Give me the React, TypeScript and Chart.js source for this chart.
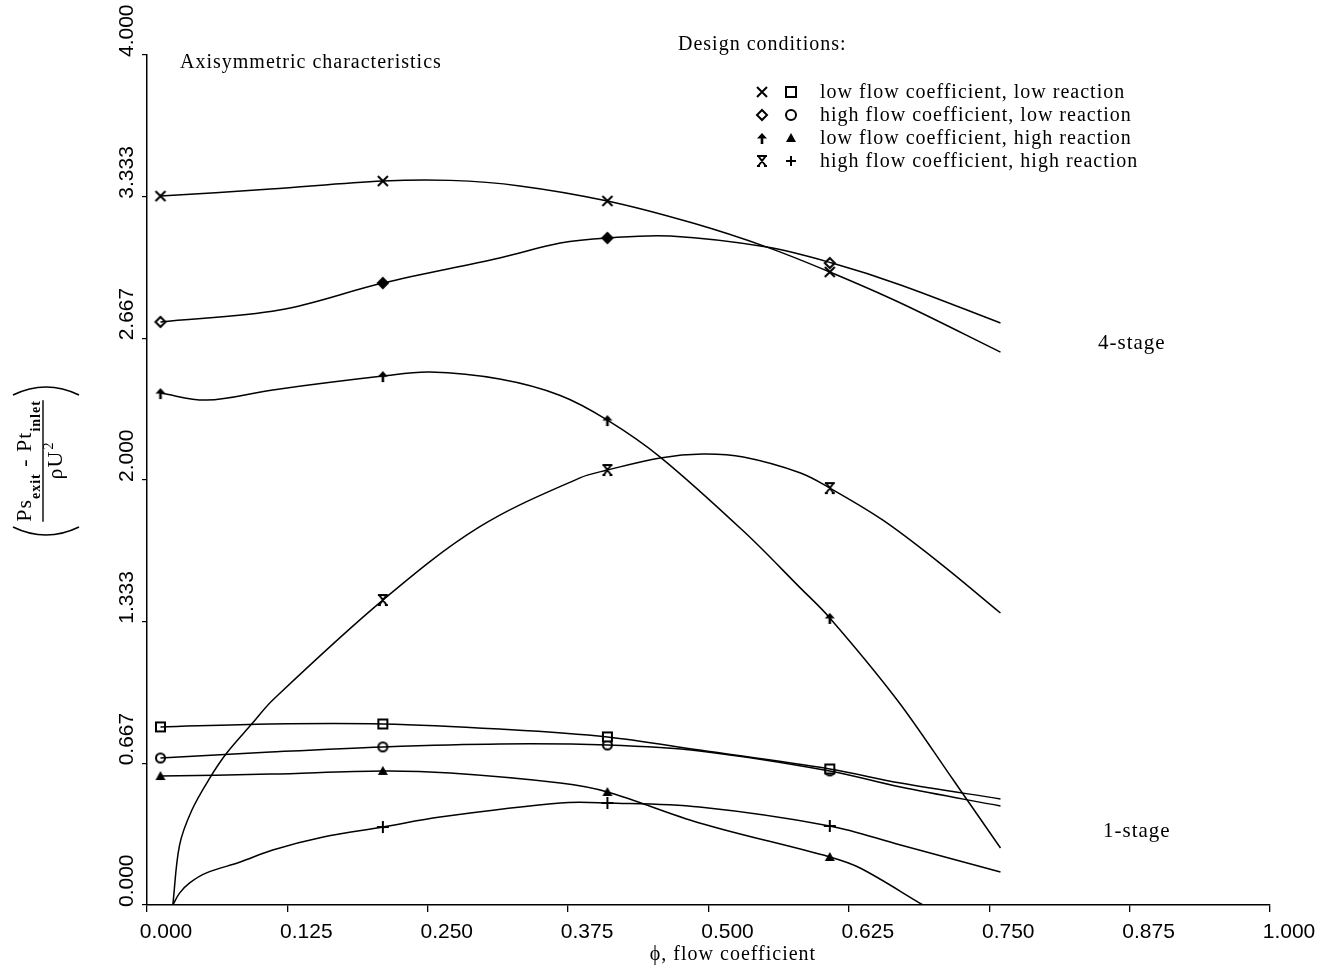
import React, { useEffect, useRef } from "react";
import { Chart, registerables } from "chart.js";

Chart.register(...registerables);

// ---------- tick labels ----------
const xTickValues = [0, 0.125, 0.25, 0.375, 0.5, 0.625, 0.75, 0.875, 1.0];
const xTickLabels = ["0.000", "0.125", "0.250", "0.375", "0.500", "0.625", "0.750", "0.875", "1.000"];
const yTickValues = [0, 2 / 3, 4 / 3, 2, 8 / 3, 10 / 3, 4];
const yTickLabels = ["0.000", "0.667", "1.333", "2.000", "2.667", "3.333", "4.000"];

// ---------- texts ----------
const xTitle = "\u03d5, flow coefficient";
const plotTitle = "Axisymmetric characteristics";
const legendTitle = "Design conditions:";
const legendLabels = [
  "low flow coefficient, low reaction",
  "high flow coefficient, low reaction",
  "low flow coefficient, high reaction",
  "high flow coefficient, high reaction",
];
const stageLabels = ["4-stage", "1-stage"];

// ---------- measured points (marker locations) ----------
const xMarkers = [0.012, 0.21, 0.41, 0.608];
const xMarkersHigh = [0.21, 0.41, 0.608];

// 4-stage markers
const mLowFlowLowReact4 = [3.336, 3.407, 3.313, 2.979];
const mHighFlowLowReact4 = [2.744, 2.927, 3.139, 3.021];
const mLowFlowHighReact4 = [2.409, 2.489, 2.282, 1.351];
const mHighFlowHighReact4 = [1.435, 2.047, 1.962];
// 1-stage markers
const mLowFlowLowReact1 = [0.838, 0.852, 0.791, 0.64];
const mHighFlowLowReact1 = [0.692, 0.744, 0.753, 0.631];
const mLowFlowHighReact1 = [0.607, 0.631, 0.532, 0.226];
const mHighFlowHighReact1 = [0.367, 0.48, 0.372];

// ---------- fitted curves [phi, value] ----------
const cLowFlowLowReact4: [number, number][] = [
  [0.012, 3.336], [0.11, 3.369], [0.21, 3.407], [0.27, 3.41], [0.332, 3.384],
  [0.41, 3.313], [0.486, 3.209], [0.552, 3.096], [0.608, 2.979], [0.671, 2.833], [0.76, 2.602],
];
const cHighFlowLowReact4: [number, number][] = [
  [0.012, 2.744], [0.118, 2.8], [0.21, 2.927], [0.314, 3.045], [0.368, 3.115],
  [0.41, 3.139], [0.466, 3.148], [0.552, 3.096], [0.61, 3.021], [0.671, 2.918], [0.76, 2.739],
];
const cLowFlowHighReact4: [number, number][] = [
  [0.012, 2.409], [0.053, 2.376], [0.112, 2.424], [0.21, 2.489], [0.252, 2.508],
  [0.314, 2.475], [0.368, 2.398], [0.41, 2.282], [0.457, 2.108], [0.532, 1.755],
  [0.581, 1.496], [0.608, 1.351], [0.668, 0.965], [0.718, 0.588], [0.76, 0.268],
];
const cHighFlowHighReact4: [number, number][] = [
  [0.023, 0.0], [0.029, 0.282], [0.04, 0.447], [0.056, 0.598], [0.071, 0.715],
  [0.094, 0.856], [0.112, 0.965], [0.21, 1.435], [0.296, 1.779], [0.385, 2.009],
  [0.41, 2.047], [0.457, 2.104], [0.495, 2.122], [0.531, 2.108], [0.582, 2.033],
  [0.608, 1.962], [0.655, 1.812], [0.706, 1.609], [0.76, 1.374],
];
const cLowFlowLowReact1: [number, number][] = [
  [0.012, 0.838], [0.11, 0.852], [0.21, 0.852], [0.314, 0.828], [0.41, 0.791],
  [0.492, 0.729], [0.608, 0.64], [0.671, 0.574], [0.76, 0.499],
];
const cHighFlowLowReact1: [number, number][] = [
  [0.012, 0.692], [0.11, 0.72], [0.21, 0.744], [0.314, 0.758], [0.41, 0.753],
  [0.492, 0.725], [0.608, 0.631], [0.671, 0.555], [0.76, 0.466],
];
const cLowFlowHighReact1: [number, number][] = [
  [0.012, 0.607], [0.11, 0.616], [0.21, 0.631], [0.27, 0.621], [0.368, 0.574],
  [0.41, 0.532], [0.492, 0.386], [0.608, 0.226], [0.635, 0.174], [0.691, 0.0],
];
const cHighFlowHighReact1: [number, number][] = [
  [0.023, 0.0], [0.029, 0.056], [0.038, 0.104], [0.053, 0.151], [0.083, 0.202],
  [0.112, 0.259], [0.157, 0.32], [0.21, 0.367], [0.261, 0.414], [0.368, 0.48],
  [0.41, 0.48], [0.492, 0.461], [0.608, 0.372], [0.671, 0.282], [0.76, 0.155],
];

const SERIF = "'Liberation Serif', 'Times New Roman', serif";
const SANS = "'Liberation Sans', Arial, sans-serif";

type Kind = "x" | "diamond" | "diamondFill" | "arrow" | "xbar" | "square" | "circle" | "triangle" | "plus";

function drawSymbol(g: CanvasRenderingContext2D, kind: Kind, cx: number, cy: number, r: number) {
  g.save();
  g.strokeStyle = "#000";
  g.fillStyle = "#000";
  g.lineWidth = 2;
  g.lineCap = "butt";
  g.beginPath();
  switch (kind) {
    case "x":
      g.moveTo(cx - r, cy - r); g.lineTo(cx + r, cy + r);
      g.moveTo(cx + r, cy - r); g.lineTo(cx - r, cy + r);
      g.stroke();
      break;
    case "diamond":
    case "diamondFill":
      g.moveTo(cx, cy - r); g.lineTo(cx + r, cy); g.lineTo(cx, cy + r); g.lineTo(cx - r, cy); g.closePath();
      if (kind === "diamondFill") g.fill();
      else { g.fillStyle = "#fff"; g.fill(); }
      g.stroke();
      break;
    case "arrow":
      g.moveTo(cx, cy - r); g.lineTo(cx + r, cy + 0.5); g.lineTo(cx - r, cy + 0.5); g.closePath();
      g.fill();
      g.fillRect(cx - 1.3, cy, 2.6, r + 1);
      break;
    case "xbar":
      g.moveTo(cx - r * 0.75, cy - r); g.lineTo(cx + r * 0.75, cy + r);
      g.moveTo(cx + r * 0.75, cy - r); g.lineTo(cx - r * 0.75, cy + r);
      g.moveTo(cx - r, cy - r); g.lineTo(cx + r, cy - r);
      g.moveTo(cx - r, cy + r); g.lineTo(cx - r * 0.4, cy + r);
      g.moveTo(cx + r * 0.4, cy + r); g.lineTo(cx + r, cy + r);
      g.stroke();
      break;
    case "square":
      g.rect(cx - r, cy - r, 2 * r, 2 * r);
      g.fillStyle = "#fff"; g.fill();
      g.stroke();
      break;
    case "circle":
      g.arc(cx, cy, r, 0, Math.PI * 2);
      g.fillStyle = "#fff"; g.fill();
      g.stroke();
      break;
    case "triangle":
      g.moveTo(cx, cy - r); g.lineTo(cx + r, cy + r * 0.8); g.lineTo(cx - r, cy + r * 0.8); g.closePath();
      g.fill();
      break;
    case "plus":
      g.moveTo(cx - r, cy); g.lineTo(cx + r, cy);
      g.moveTo(cx, cy - r); g.lineTo(cx, cy + r);
      g.stroke();
      break;
  }
  g.restore();
}

function symbolCanvas(kind: Kind, r: number): HTMLCanvasElement {
  const size = Math.ceil(r * 2 + 6);
  const c = document.createElement("canvas");
  c.width = size;
  c.height = size;
  const g = c.getContext("2d")!;
  drawSymbol(g, kind, size / 2, size / 2, r);
  return c;
}

const legendKinds: [Kind, Kind][] = [
  ["x", "square"],
  ["diamond", "circle"],
  ["arrow", "triangle"],
  ["xbar", "plus"],
];

const textPlugin = {
  id: "textPlugin",
  afterDraw(chart: any) {
    const ctx: CanvasRenderingContext2D = chart.ctx;
    const yScale = chart.scales.y;
    ctx.save();
    ctx.fillStyle = "#000";
    // rotated y tick labels
    ctx.font = `21px ${SANS}`;
    yTickValues.forEach((v, i) => {
      const py = yScale.getPixelForValue(v);
      ctx.save();
      ctx.translate(127, py + 2);
      ctx.rotate(-Math.PI / 2);
      ctx.textAlign = "left";
      ctx.textBaseline = "middle";
      ctx.fillText(yTickLabels[i], 0, 0);
      ctx.restore();
    });

    // y axis title (fraction)
    ctx.save();
    ctx.translate(46, 461);
    ctx.rotate(-Math.PI / 2);
    const big = `22px ${SERIF}`;
    const sub = `bold 14px ${SERIF}`;
    (ctx as any).letterSpacing = "1px";
    const parts = [
      { t: "Ps", f: big, dy: 0 },
      { t: "exit", f: sub, dy: 9 },
      { t: " - ", f: big, dy: 0 },
      { t: "Pt", f: big, dy: 0 },
      { t: "inlet", f: sub, dy: 9 },
    ];
    let total = 0;
    parts.forEach((p) => { ctx.font = p.f; total += ctx.measureText(p.t).width; });
    let cx = -total / 2;
    ctx.textAlign = "left";
    ctx.textBaseline = "alphabetic";
    parts.forEach((p) => {
      ctx.font = p.f;
      ctx.fillText(p.t, cx, -15 + p.dy);
      cx += ctx.measureText(p.t).width;
    });
    ctx.strokeStyle = "#000";
    ctx.lineWidth = 1.4;
    ctx.beginPath();
    ctx.moveTo(-total / 2, -3);
    ctx.lineTo(total / 2, -3);
    ctx.stroke();
    // denominator
    ctx.font = big;
    const dW = ctx.measureText("\u03c1U").width;
    ctx.font = `14px ${SERIF}`;
    const sW = ctx.measureText("2").width;
    const dx = -(dW + sW) / 2;
    ctx.font = big;
    ctx.fillText("\u03c1U", dx, 16);
    ctx.font = `14px ${SERIF}`;
    ctx.fillText("2", dx + dW + 1, 7);
    (ctx as any).letterSpacing = "0px";
    // parentheses
    ctx.lineWidth = 1.6;
    ctx.beginPath();
    ctx.moveTo(-66, -33);
    ctx.quadraticCurveTo(-82, 0, -66, 33);
    ctx.moveTo(66, -33);
    ctx.quadraticCurveTo(82, 0, 66, 33);
    ctx.stroke();
    ctx.restore();

    // annotation texts
    ctx.font = `20px ${SERIF}`;
    (ctx as any).letterSpacing = "1px";
    ctx.textAlign = "left";
    ctx.textBaseline = "middle";
    ctx.fillText(plotTitle, 180, 63);
    ctx.fillText(legendTitle, 678, 45);
    ctx.font = `21px ${SERIF}`;
    ctx.fillText(stageLabels[0], 1098, 343);
    ctx.fillText(stageLabels[1], 1103, 831);
    ctx.font = `20px ${SERIF}`;
    const rows = [92, 115, 138, 161];
    legendLabels.forEach((lab, i) => {
      ctx.fillText(lab, 820, rows[i] + 1);
      drawSymbol(ctx, legendKinds[i][0], 762, rows[i], 5);
      drawSymbol(ctx, legendKinds[i][1], 791, rows[i], 5);
    });
    // x axis title
    ctx.textAlign = "center";
    ctx.fillText(xTitle, 733, 955);
    (ctx as any).letterSpacing = "0px";
    ctx.restore();
  },
};

function curveDataset(pts: [number, number][]) {
  return {
    data: pts.map(([x, y]) => ({ x, y })),
    showLine: true,
    borderColor: "#000",
    borderWidth: 1.5,
    pointRadius: 0,
    pointHoverRadius: 0,
    tension: 0.35,
    fill: false,
  };
}

function markerDataset(xs: number[], ys: number[], style: any) {
  return {
    data: ys.map((y, i) => ({ x: xs[i], y })),
    showLine: false,
    pointStyle: style,
    pointRadius: 6,
    borderColor: "#000",
    backgroundColor: "#000",
  };
}

export default function App() {
  const ref = useRef<HTMLCanvasElement>(null);
  useEffect(() => {
    if (!ref.current) return;
    const sX = symbolCanvas("x", 5);
    const sDia = symbolCanvas("diamond", 5);
    const sDiaF = symbolCanvas("diamondFill", 5);
    const sArrow = symbolCanvas("arrow", 5);
    const sXbar = symbolCanvas("xbar", 5);
    const sSq = symbolCanvas("square", 4.5);
    const sCirc = symbolCanvas("circle", 4.5);
    const sTri = symbolCanvas("triangle", 5);
    const sPlus = symbolCanvas("plus", 6);

    const chart = new Chart(ref.current, {
      type: "scatter",
      data: {
        datasets: [
          curveDataset(cLowFlowLowReact4),
          curveDataset(cHighFlowLowReact4),
          curveDataset(cLowFlowHighReact4),
          curveDataset(cHighFlowHighReact4),
          curveDataset(cLowFlowLowReact1),
          curveDataset(cHighFlowLowReact1),
          curveDataset(cLowFlowHighReact1),
          curveDataset(cHighFlowHighReact1),
          markerDataset(xMarkers, mLowFlowLowReact4, sX),
          markerDataset(xMarkers, mHighFlowLowReact4, [sDia, sDiaF, sDiaF, sDia]),
          markerDataset(xMarkers, mLowFlowHighReact4, sArrow),
          markerDataset(xMarkersHigh, mHighFlowHighReact4, sXbar),
          markerDataset(xMarkers, mLowFlowLowReact1, sSq),
          markerDataset(xMarkers, mHighFlowLowReact1, sCirc),
          markerDataset(xMarkers, mLowFlowHighReact1, sTri),
          markerDataset(xMarkersHigh, mHighFlowHighReact1, sPlus),
        ] as any,
      },
      options: {
        animation: false,
        responsive: false,
        maintainAspectRatio: false,
        layout: { padding: { top: 55, right: 58, bottom: 0, left: 0 } },
        plugins: {
          legend: { display: false },
          tooltip: { enabled: false },
        },
        events: [],
        scales: {
          x: {
            type: "linear",
            min: 0,
            max: 1,
            afterBuildTicks: (s: any) => {
              s.ticks = xTickValues.map((v) => ({ value: v }));
            },
            afterFit: (s: any) => {
              s.height = 71;
            },
            border: { display: true, color: "#000", width: 1.5 },
            grid: { drawOnChartArea: false, drawTicks: true, tickLength: 7, color: "#000", lineWidth: 1.3 },
            ticks: {
              autoSkip: false,
              maxRotation: 0,
              minRotation: 0,
              labelOffset: 19,
              padding: 8,
              color: "#000",
              font: { family: SANS, size: 21 },
              callback: (_v: any, i: number) => xTickLabels[i],
            },
            title: { display: false },
          },
          y: {
            type: "linear",
            min: 0,
            max: 4,
            afterBuildTicks: (s: any) => {
              s.ticks = yTickValues.map((v) => ({ value: v }));
            },
            afterFit: (s: any) => {
              s.width = 147;
            },
            border: { display: true, color: "#000", width: 1.5 },
            grid: { drawOnChartArea: false, drawTicks: true, tickLength: 5, color: "#000", lineWidth: 1.2 },
            ticks: { display: false },
          },
        },
      } as any,
      plugins: [textPlugin],
    });
    return () => chart.destroy();
  }, []);

  return (
    <div style={{ position: "absolute", left: 0, top: 0, width: 1328, height: 976, background: "#fff" }}>
      <canvas ref={ref} width={1328} height={976} style={{ display: "block" }} />
    </div>
  );
}
